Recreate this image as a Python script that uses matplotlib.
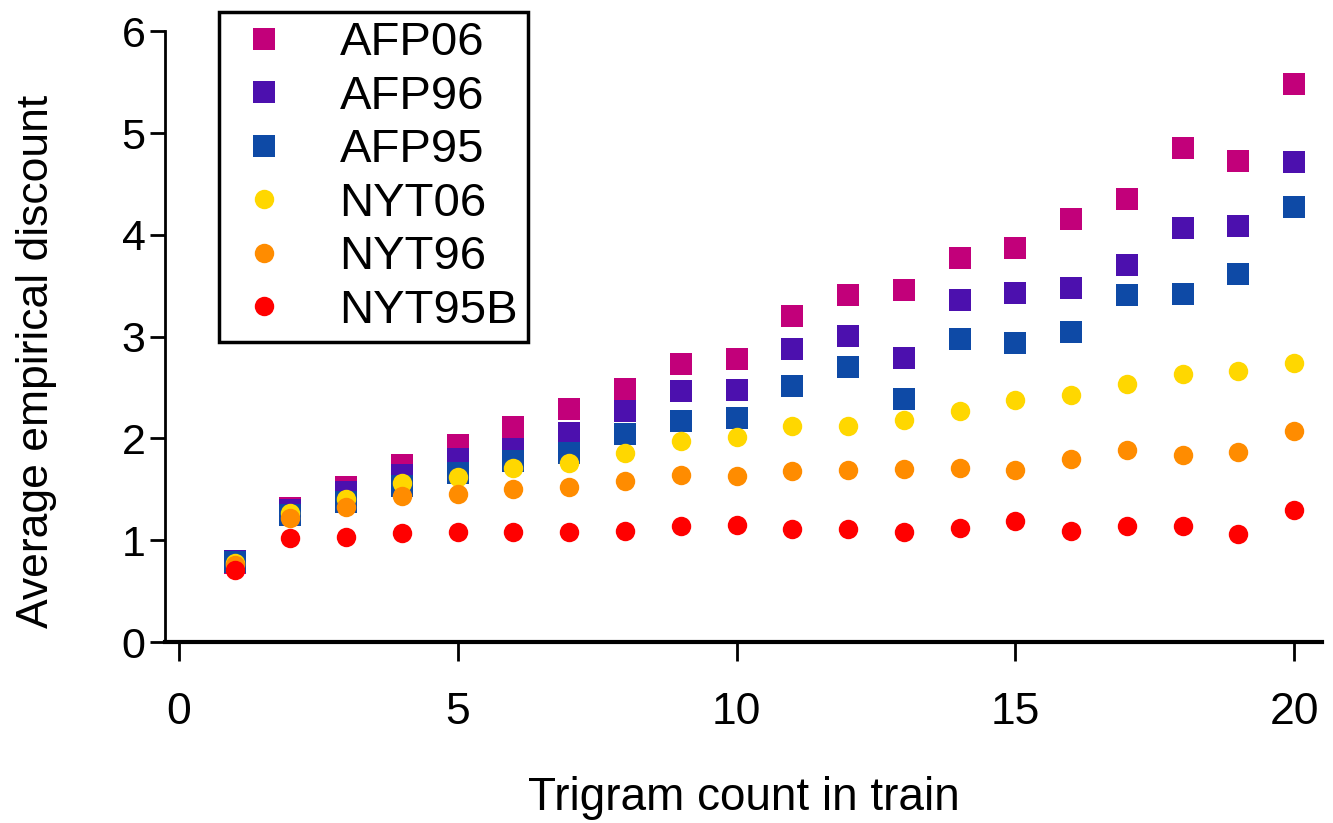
import matplotlib
matplotlib.use("Agg")
import matplotlib.pyplot as plt

plt.rcParams['font.family'] = ['Liberation Sans', 'DejaVu Sans']

# 데이터
counts = list(range(1, 21))
afp06 = [0.78, 1.32, 1.52, 1.74, 1.94, 2.11, 2.29, 2.49, 2.73, 2.78,
         3.20, 3.41, 3.46, 3.77, 3.87, 4.16, 4.35, 4.85, 4.73, 5.48]
afp96 = [0.80, 1.30, 1.47, 1.64, 1.80, 1.90, 2.05, 2.27, 2.47, 2.48,
         2.88, 3.01, 2.79, 3.36, 3.43, 3.48, 3.70, 4.07, 4.09, 4.72]
afp95 = [0.79, 1.25, 1.38, 1.53, 1.66, 1.78, 1.86, 2.04, 2.17, 2.20,
         2.52, 2.70, 2.39, 2.98, 2.94, 3.05, 3.41, 3.42, 3.62, 4.27]
nyt06 = [0.78, 1.27, 1.41, 1.56, 1.62, 1.71, 1.76, 1.86, 1.98, 2.01,
         2.12, 2.12, 2.18, 2.27, 2.38, 2.43, 2.54, 2.63, 2.66, 2.74]
nyt96 = [0.76, 1.22, 1.33, 1.43, 1.45, 1.50, 1.52, 1.58, 1.64, 1.63,
         1.68, 1.69, 1.70, 1.71, 1.69, 1.80, 1.89, 1.84, 1.87, 2.07]
nyt95b = [0.71, 1.02, 1.03, 1.07, 1.08, 1.08, 1.08, 1.09, 1.14, 1.15,
          1.11, 1.11, 1.08, 1.12, 1.19, 1.09, 1.14, 1.14, 1.06, 1.30]

series = [
    ("AFP06", afp06, "#C2007A", "s"),
    ("AFP96", afp96, "#4C10AE", "s"),
    ("AFP95", afp95, "#0E4AA6", "s"),
    ("NYT06", nyt06, "#FFD700", "o"),
    ("NYT96", nyt96, "#FF8C00", "o"),
    ("NYT95B", nyt95b, "#FF0000", "o"),
]

fig = plt.figure(figsize=(13.33, 8.23), dpi=100)
ax = fig.add_axes([0.1238, 0.2199, 0.8679, 0.7655])

for name, vals, col, mk in series:
    ms = 16 if mk == "s" else 14
    ax.plot(counts, vals, linestyle="none", marker=mk, markersize=ms,
            color=col, markeredgewidth=0, label=name)

ax.set_xlim(-0.25, 20.5)
ax.set_ylim(0, 6.19)
ax.set_xticks([0, 5, 10, 15, 20])
ax.set_yticks([0, 1, 2, 3, 4, 5, 6])

ax.spines['top'].set_visible(False)
ax.spines['right'].set_visible(False)
ax.spines['left'].set_bounds(0, 6)
ax.spines['left'].set_linewidth(2)
ax.spines['bottom'].set_linewidth(3)

ax.tick_params(axis='x', direction='out', length=14, width=2, pad=22, labelsize=32)
ax.tick_params(axis='y', direction='out', length=11, width=2, pad=3, labelsize=31)

ax.set_xlabel("Trigram count in train", fontsize=33, labelpad=31)
ax.set_ylabel("Average empirical discount", fontsize=32)
ax.yaxis.set_label_coords(-0.093, 0.446)

leg = ax.legend(loc="upper left", bbox_to_anchor=(0.0467, 1.0), borderaxespad=0,
                fontsize=34, numpoints=1, handlelength=1.5, handletextpad=0.85,
                labelspacing=0.2, borderpad=0.2, fancybox=False, framealpha=1)
leg.get_frame().set_edgecolor("black")
leg.get_frame().set_linewidth(2.5)

fig.savefig("out.png", dpi=100)
